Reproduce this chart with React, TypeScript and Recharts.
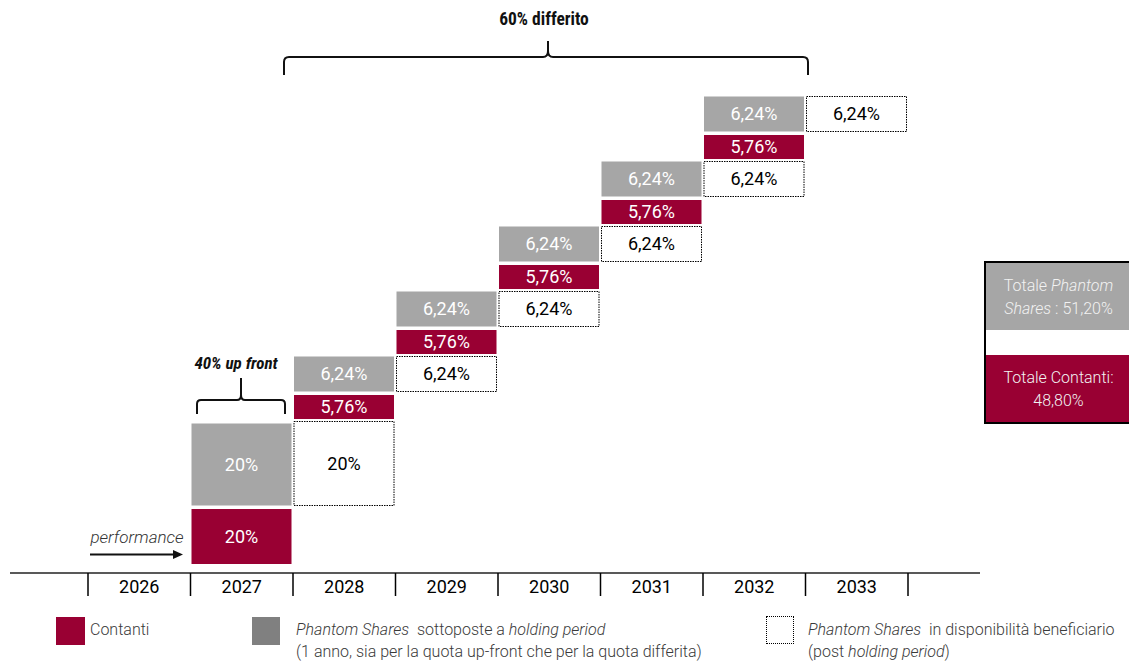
import { Bar, BarChart, LabelList, XAxis, YAxis } from "recharts";

// The reference is a schematic: blocks are not drawn to scale, so the drawn
// block heights (in chart units) are kept apart from the percentages shown.
const YEARS = ["2026", "2027", "2028", "2029", "2030", "2031", "2032", "2033"];
const CONTANTI = [null, 20, 5.76, 5.76, 5.76, 5.76, 5.76, null];
const PHANTOM_HOLDING = [null, 20, 6.24, 6.24, 6.24, 6.24, 6.24, null];
const PHANTOM_FREE = [null, null, 20, 6.24, 6.24, 6.24, 6.24, 6.24];

const CONTANTI_UNITS = [0, 55, 24, 24, 24, 24, 24, 0];
const HOLDING_UNITS = [0, 82, 35, 35, 35, 35, 35, 0];
const FREE_UNITS = [0, 0, 84, 35, 35, 35, 35, 35];
const FIRST_BASE = 9;

const RED = "#990033";
const GREY = "#a6a6a6";
const FONT = "Roboto, 'Noto Sans', sans-serif";
const NARROW = "'Roboto Condensed', 'Liberation Sans Narrow', Roboto, sans-serif";

const W = 1129;
const H = 663;
const PLOT_LEFT = 10;
const PLOT_RIGHT = 980;
const PAD_L = 78;
const PAD_R = 72;
const BAND = (PLOT_RIGHT - PLOT_LEFT - PAD_L - PAD_R) / YEARS.length;

// stack: base | free | gap | cash | gap | hold ; each year's free block sits
// level with the previous year's holding block
const rows: any[] = [];
let prevHoldStart = 0;
YEARS.forEach((year, i) => {
  const free = FREE_UNITS[i];
  const cash = CONTANTI_UNITS[i];
  const hold = HOLDING_UNITS[i];
  const base = i === 0 ? 0 : free > 0 ? prevHoldStart : FIRST_BASE;
  const gap1 = free > 0 && cash > 0 ? 2.5 : 0;
  const gap2 = cash > 0 && hold > 0 ? 3.5 : 0;
  prevHoldStart = base + free + gap1 + cash + gap2;
  rows.push({
    year,
    base,
    free,
    gap1,
    cash,
    gap2,
    hold,
    freeLabel: PHANTOM_FREE[i],
    cashLabel: CONTANTI[i],
    holdLabel: PHANTOM_HOLDING[i],
  });
});

const fmt = (v: any) => (v == null ? "" : `${String(v).replace(".", ",")}%`);

function YearTick(props: any) {
  const { x, y, payload, index } = props;
  const half = BAND / 2;
  return (
    <g>
      <line x1={x - half} x2={x - half} y1={y} y2={y + 23} stroke="#000" strokeWidth={1.5} />
      {index === YEARS.length - 1 && (
        <line x1={x + half} x2={x + half} y1={y} y2={y + 23} stroke="#000" strokeWidth={1.5} />
      )}
      <text x={x} y={y + 13} textAnchor="middle" dominantBaseline="central" fontFamily={FONT} fontWeight={400} fontSize={18} fill="#000">
        {payload.value}
      </text>
    </g>
  );
}

const legendText: React.CSSProperties = {
  position: "absolute",
  fontFamily: FONT,
  fontWeight: 300,
  fontSize: 16,
  color: "#3a3a3a",
  lineHeight: "22px",
  whiteSpace: "nowrap",
};

export default function App() {
  return (
    <div style={{ position: "absolute", left: 0, top: 0, width: W, height: H, background: "#fff", overflow: "hidden" }}>
      <BarChart
        width={W}
        height={H}
        data={rows}
        margin={{ top: 73, right: W - PLOT_RIGHT, bottom: 60, left: PLOT_LEFT }}
        barSize={100}
      >
        <XAxis
          dataKey="year"
          height={30}
          padding={{ left: PAD_L, right: PAD_R }}
          axisLine={{ stroke: "#222", strokeWidth: 1.5 }}
          tickLine={false}
          tickSize={0}
          tickMargin={0}
          interval={0}
          tick={<YearTick />}
        />
        <YAxis hide domain={[0, 500]} type="number" allowDataOverflow />
        <Bar dataKey="base" stackId="s" fill="transparent" isAnimationActive={false} />
        <Bar dataKey="free" stackId="s" fill="#fff" stroke="#000" strokeWidth={1} strokeDasharray="1.5 1" isAnimationActive={false}>
          <LabelList dataKey="freeLabel" position="center" formatter={fmt} fill="#000" fontFamily={FONT} fontWeight={400} fontSize={18} />
        </Bar>
        <Bar dataKey="gap1" stackId="s" fill="transparent" isAnimationActive={false} />
        <Bar dataKey="cash" stackId="s" fill={RED} isAnimationActive={false}>
          <LabelList dataKey="cashLabel" position="center" formatter={fmt} fill="#fff" fontFamily={FONT} fontWeight={400} fontSize={18} />
        </Bar>
        <Bar dataKey="gap2" stackId="s" fill="transparent" isAnimationActive={false} />
        <Bar dataKey="hold" stackId="s" fill={GREY} isAnimationActive={false}>
          <LabelList dataKey="holdLabel" position="center" formatter={fmt} fill="#fff" fontFamily={FONT} fontWeight={400} fontSize={18} />
        </Bar>
      </BarChart>

      {/* annotations */}
      <svg width={W} height={H} style={{ position: "absolute", left: 0, top: 0, pointerEvents: "none" }}>
        <text x={544} y={19} textAnchor="middle" dominantBaseline="central" fontFamily={NARROW} fontWeight={700} fontSize={17.5} fill="#111">
          60% differito
        </text>
        <path
          d="M284,75 L284,62 Q284,57 289,57 L543,57 Q548,57 548,51 L548,41 M548,51 Q548,57 553,57 L803,57 Q808,57 808,62 L808,75"
          fill="none"
          stroke="#111"
          strokeWidth={2}
        />
        <text x={236} y={363} textAnchor="middle" dominantBaseline="central" fontFamily={NARROW} fontWeight={700} fontStyle="italic" fontSize={17} fill="#111">
          40% up front
        </text>
        <path
          d="M197,414 L197,404 Q197,400 201,400 L237,400 Q241,400 241,395 L241,378 M241,395 Q241,400 245,400 L281,400 Q285,400 285,404 L285,414"
          fill="none"
          stroke="#111"
          strokeWidth={2}
        />
        <text x={137} y={537} textAnchor="middle" dominantBaseline="central" fontFamily={FONT} fontWeight={300} fontStyle="italic" fontSize={17} fill="#333">
          performance
        </text>
        <line x1={90} x2={175} y1={554.5} y2={554.5} stroke="#111" strokeWidth={2} />
        <path d="M173,550 L183,554.5 L173,559 Z" fill="#111" />
      </svg>

      {/* totals box */}
      <div
        style={{
          position: "absolute",
          left: 984,
          top: 261,
          width: 160,
          height: 159,
          borderTop: "2px solid #000",
          borderLeft: "2px solid #000",
          borderBottom: "2px solid #000",
          background: "#fff",
          fontFamily: FONT,
          fontWeight: 300,
          fontSize: 16,
          color: "#f2f2f2",
          lineHeight: "23px",
        }}
      >
        <div style={{ height: 67, background: GREY, width: 145, display: "flex", flexDirection: "column", justifyContent: "center", alignItems: "center" }}>
          <div>
            Totale <i>Phantom</i>
          </div>
          <div>
            <i>Shares</i> : 51,20%
          </div>
        </div>
        <div style={{ height: 25 }} />
        <div style={{ height: 67, background: RED, width: 145, display: "flex", flexDirection: "column", justifyContent: "center", alignItems: "center" }}>
          <div>Totale Contanti:</div>
          <div>48,80%</div>
        </div>
      </div>

      {/* legend */}
      <div style={{ position: "absolute", left: 56, top: 617, width: 29, height: 28, background: RED }} />
      <div style={{ ...legendText, left: 90, top: 619 }}>Contanti</div>

      <div style={{ position: "absolute", left: 252, top: 617, width: 28, height: 28, background: "#808080" }} />
      <div style={{ ...legendText, left: 296, top: 619 }}>
        <i>Phantom Shares</i>&nbsp; sottoposte a <i>holding period</i>
        <br />
        (1 anno, sia per la quota up-front che per la quota differita)
      </div>

      <div style={{ position: "absolute", left: 766, top: 616, width: 26, height: 26, border: "1px dotted #000" }} />
      <div style={{ ...legendText, left: 808, top: 619 }}>
        <i>Phantom Shares</i>&nbsp; in disponibilità beneficiario
        <br />
        (post <i>holding period</i>)
      </div>
    </div>
  );
}
